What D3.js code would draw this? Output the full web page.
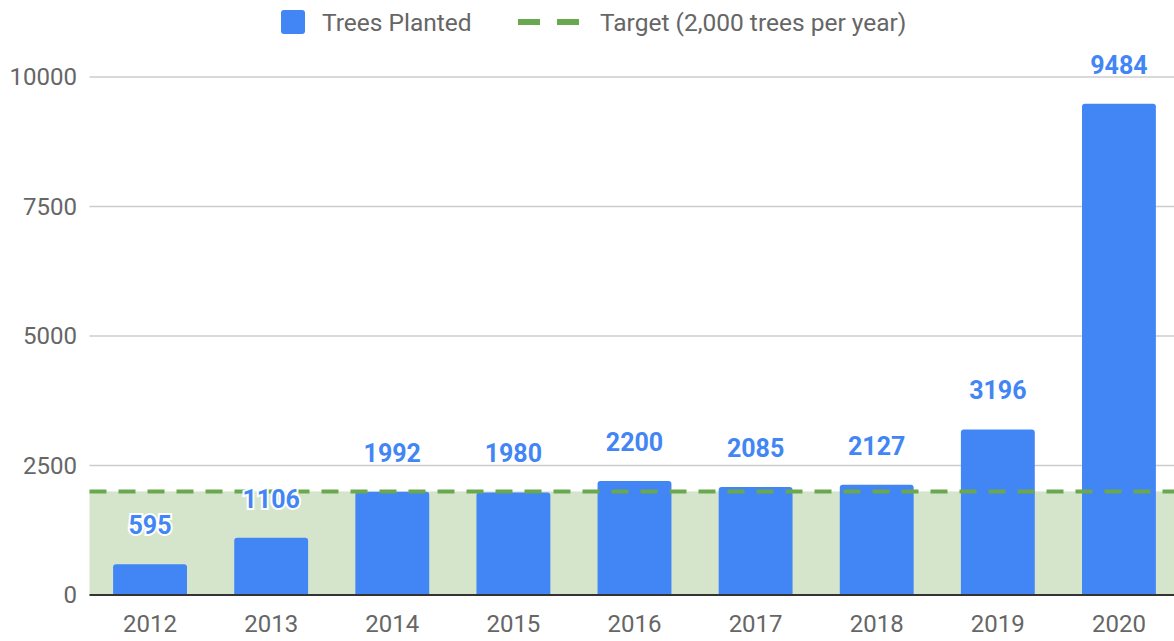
<!DOCTYPE html>
<html lang="en">
<head>
    <meta charset="UTF-8">
    <title>Trees Planted per Year</title>
    <script src="https://d3js.org/d3.v7.min.js"></script>
    <style>
        body { margin: 0; background: #fff; overflow: hidden; }
        text { font-family: Roboto, "Noto Sans", sans-serif; }
    </style>
</head>
<body>
    <div id="chart"></div>
    <script>
        // Data
        const years = ["2012", "2013", "2014", "2015", "2016", "2017", "2018", "2019", "2020"];
        const treesPlanted = [595, 1106, 1992, 1980, 2200, 2085, 2127, 3196, 9484];
        const target = 2000;
        const yTicks = [0, 2500, 5000, 7500, 10000];
        const seriesNames = ["Trees Planted", "Target (2,000 trees per year)"];

        const data = years.map((y, i) => ({ year: y, value: treesPlanted[i] }));

        const W = 1174, H = 641;
        const plotLeft = 89.5, plotRight = 1179.5, plotTop = 77, plotBottom = 595;

        const svg = d3.select("#chart").append("svg")
            .attr("width", W)
            .attr("height", H);

        const x = d3.scaleBand()
            .domain(years)
            .range([plotLeft, plotRight])
            .paddingInner(0.39)
            .paddingOuter(0.195);

        const y = d3.scaleLinear()
            .domain([0, 10000])
            .range([plotBottom, plotTop]);

        // Gridlines
        svg.append("g")
            .selectAll("line")
            .data(yTicks.filter(d => d > 0))
            .join("line")
            .attr("x1", plotLeft)
            .attr("x2", W)
            .attr("y1", d => y(d))
            .attr("y2", d => y(d))
            .attr("stroke", "#cccccc")
            .attr("stroke-width", 1.5);

        // Y tick labels
        svg.append("g")
            .selectAll("text")
            .data(yTicks)
            .join("text")
            .attr("x", 77)
            .attr("y", d => y(d))
            .attr("dy", "0.35em")
            .attr("text-anchor", "end")
            .attr("fill", "#666")
            .style("font-size", "24px")
            .text(d => d);

        // Target shaded area
        svg.append("rect")
            .attr("x", plotLeft)
            .attr("y", y(target))
            .attr("width", W - plotLeft)
            .attr("height", y(0) - y(target))
            .attr("fill", "#d5e5cc");

        // Bars with rounded tops
        const r = 3;
        svg.append("g")
            .selectAll("path")
            .data(data)
            .join("path")
            .attr("fill", "#4285f4")
            .attr("d", d => {
                const x0 = x(d.year), w = x.bandwidth();
                const yt = y(d.value), yb = y(0);
                return `M${x0},${yb}V${yt + r}Q${x0},${yt} ${x0 + r},${yt}` +
                       `H${x0 + w - r}Q${x0 + w},${yt} ${x0 + w},${yt + r}V${yb}Z`;
            });

        // Target dashed line
        svg.append("line")
            .attr("x1", plotLeft)
            .attr("x2", W)
            .attr("y1", y(target))
            .attr("y2", y(target))
            .attr("stroke", "#6aa84f")
            .attr("stroke-width", 4)
            .attr("stroke-dasharray", "17,12");

        // Baseline
        svg.append("line")
            .attr("x1", plotLeft)
            .attr("x2", W)
            .attr("y1", y(0))
            .attr("y2", y(0))
            .attr("stroke", "#333")
            .attr("stroke-width", 2);

        // Value labels with white halo
        svg.append("g")
            .selectAll("text")
            .data(data)
            .join("text")
            .attr("x", d => x(d.year) + x.bandwidth() / 2)
            .attr("y", d => y(d.value) - 30)
            .attr("text-anchor", "middle")
            .attr("fill", "#4285f4")
            .attr("stroke", "#fff")
            .attr("stroke-width", 4)
            .attr("paint-order", "stroke")
            .style("font-size", "25px")
            .style("font-weight", "bold")
            .text(d => d.value);

        // X tick labels
        svg.append("g")
            .selectAll("text")
            .data(years)
            .join("text")
            .attr("x", d => x(d) + x.bandwidth() / 2)
            .attr("y", 624)
            .attr("dy", "0.35em")
            .attr("text-anchor", "middle")
            .attr("fill", "#666")
            .style("font-size", "24px")
            .text(d => d);

        // Legend
        const legend = svg.append("g");
        legend.append("rect")
            .attr("x", 281)
            .attr("y", 10)
            .attr("width", 24)
            .attr("height", 24)
            .attr("rx", 3)
            .attr("fill", "#4285f4");
        legend.append("text")
            .attr("x", 322)
            .attr("y", 22)
            .attr("dy", "0.35em")
            .attr("fill", "#666")
            .style("font-size", "24.5px")
            .text(seriesNames[0]);
        legend.append("line")
            .attr("x1", 518)
            .attr("x2", 581)
            .attr("y1", 22)
            .attr("y2", 22)
            .attr("stroke", "#6aa84f")
            .attr("stroke-width", 6)
            .attr("stroke-dasharray", "22,17");
        legend.append("text")
            .attr("x", 600)
            .attr("y", 22)
            .attr("dy", "0.35em")
            .attr("fill", "#666")
            .style("font-size", "24.5px")
            .text(seriesNames[1]);
    </script>
</body>
</html>
